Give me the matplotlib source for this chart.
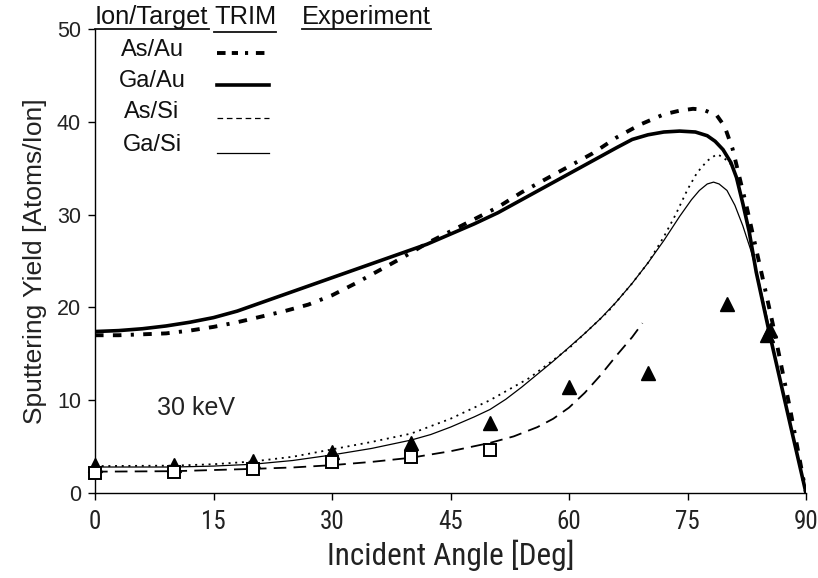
import matplotlib
matplotlib.use("Agg")
import matplotlib.pyplot as plt

plt.rcParams['font.family'] = ['Liberation Sans', 'DejaVu Sans']
NARROW = ['Liberation Sans Narrow', 'Roboto Condensed', 'DejaVu Sans Condensed', 'Liberation Sans']

# TRIM simulations, 30 keV
ang_asau = [0, 3, 6, 9, 12, 15, 18, 21, 24, 27, 30, 33, 36, 39, 42, 45, 48, 51, 54, 57, 60, 63, 66, 69,
            72, 74, 75.7, 77, 78.7, 79.7, 80.7, 81.5, 82.5, 84.5, 85.8, 88, 90]
y_asau = [17.0, 17.0, 17.1, 17.2, 17.5, 17.9, 18.4, 19.0, 19.6, 20.3, 21.3, 22.6, 24.0, 25.4, 26.9, 28.2, 29.5, 30.8, 32.4, 33.8, 35.2, 36.6, 38.3, 39.7,
          40.8, 41.2, 41.4, 41.3, 40.7, 39.5, 37.1, 34.3, 30.8, 23.2, 18.2, 9.0, 0.0]

ang_gaau = [0, 3, 6, 9, 12, 15, 18, 21, 24, 27, 30, 33, 36, 39, 42, 45, 48, 51, 54, 57, 60, 63, 66, 68,
            70, 72, 74, 76, 77.5, 78.5, 79.5, 80.5, 81.2, 82, 82.8, 83.7, 85.3, 88, 90]
y_gaau = [17.4, 17.5, 17.7, 18.0, 18.4, 18.9, 19.6, 20.5, 21.4, 22.3, 23.2, 24.1, 25.0, 25.9, 26.8, 27.9, 29.0, 30.2, 31.6, 33.0, 34.4, 35.8, 37.2, 38.1,
          38.6, 38.9, 39.0, 38.9, 38.5, 37.9, 37.0, 35.6, 34.0, 31.2, 28.2, 23.8, 17.5, 7.4, 0.0]

ang_assi = [0, 10, 15, 20, 25, 30, 35, 40, 45, 50, 55, 60, 65, 68, 70, 72, 73.5, 75, 76.2, 77.5, 78.7, 79.5,
            80.5, 81.2, 82, 82.8, 83.7, 85.3, 88, 90]
y_assi = [2.9, 2.95, 3.1, 3.4, 3.9, 4.7, 5.5, 6.4, 8.0, 10.0, 12.4, 15.6, 19.6, 22.6, 24.8, 27.6, 30.0, 32.7, 34.5, 35.8, 36.5, 36.2,
          35.4, 34.0, 31.2, 28.2, 23.8, 17.5, 7.4, 0.0]

ang_gasi = [0, 10, 15, 20, 25, 30, 35, 40, 42.5, 45, 48, 50, 52, 54, 56, 58, 60, 62, 64, 66, 68, 70, 72, 74, 75.5, 76.5,
            77.5, 78.3, 79, 80, 81, 82, 83, 84, 85, 86, 88, 90]
y_gasi = [2.8, 2.8, 2.9, 3.1, 3.5, 4.1, 4.8, 5.7, 6.3, 7.1, 8.2, 9.0, 10.1, 11.4, 12.8, 14.2, 15.7, 17.2, 18.8, 20.6, 22.6, 24.8, 27.2, 29.8, 31.6, 32.6,
          33.3, 33.5, 33.3, 32.6, 31.0, 28.8, 26.2, 23.0, 19.2, 15.0, 7.4, 0.0]

# fit through the experimental data
ang_fit = [0, 10, 20, 25, 30, 35, 40, 45, 50, 53, 56, 58, 60, 62, 64, 66, 68, 69.3]
y_fit = [2.3, 2.35, 2.6, 2.75, 3.0, 3.35, 3.8, 4.5, 5.4, 6.1, 7.1, 8.0, 9.2, 10.8, 12.7, 14.8, 16.8, 18.3]

# measured yields
ang_tri = [0, 10, 20, 30, 40, 50, 60, 70, 80, 85, 85.5]
y_tri = [3.0, 3.0, 3.4, 4.4, 5.4, 7.5, 11.4, 12.9, 20.4, 17.0, 17.6]
ang_sq = [0, 10, 20, 30, 40, 50]
y_sq = [2.2, 2.3, 2.6, 3.3, 3.9, 4.6]

xticks = [0, 15, 30, 45, 60, 75, 90]
yticks = [0, 10, 20, 30, 40, 50]

W, H = 818, 578
fig = plt.figure(figsize=(W / 100, H / 100), dpi=100)
ax = fig.add_axes([95 / W, 1 - 493 / H, 711 / W, 464 / H])

style_asau = (0, (2.2, 2.4, 2.2, 2.4, 0.8, 2.4))
ax.plot(ang_asau, y_asau, color='black', lw=2.8, linestyle=style_asau, zorder=3)
ax.plot(ang_gaau, y_gaau, color='black', lw=2.6, solid_capstyle='butt', zorder=3)
ax.plot(ang_assi, y_assi, color='black', lw=1.3, linestyle=(0, (1.1, 2.6)), zorder=3)
ax.plot(ang_gasi, y_gasi, color='black', lw=0.9, zorder=3)
ax.plot(ang_fit, y_fit, color='black', lw=1.3, linestyle=(0, (7, 4)), zorder=3)

ax.plot(ang_tri, y_tri, linestyle='none', marker='^', ms=10, color='black', zorder=4, clip_on=False)
ax.plot(ang_sq, y_sq, linestyle='none', marker='s', ms=8, mfc='white', mec='black', mew=1.4,
        zorder=4, clip_on=False)

ax.set_xlim(0, 90)
ax.set_ylim(0, 50)
ax.set_xticks(xticks)
ax.set_yticks(yticks)
ax.spines['top'].set_visible(False)
ax.spines['right'].set_visible(False)
ax.spines['left'].set_linewidth(1.0)
ax.spines['bottom'].set_linewidth(1.0)
ax.tick_params(direction='out', length=5, width=1.0)
ax.tick_params(axis='y', labelsize=15.5, pad=5, labelcolor='#222222')
ax.tick_params(axis='x', labelsize=18, pad=7, labelcolor='#222222')
for lab in ax.get_xticklabels():
    lab.set_family(NARROW)
ax.set_facecolor('none')

ax.set_xlabel('Incident Angle [Deg]', fontsize=22.5, color='#222222', labelpad=4, family=NARROW)
ax.set_ylabel('Sputtering Yield [Atoms/Ion]', fontsize=19, color='#222222', labelpad=7)

fig.text(157 / W, 1 - 408 / H, '30 keV', fontsize=18, va='center', ha='left', color='#222222')

# key: column headers with underlines
fig.canvas.draw()
renderer = fig.canvas.get_renderer()
headers = [('Ion/Target', 95, 29), ('TRIM', 214, 32), ('Experiment', 302, 29)]
for txt, px, uy in headers:
    t = fig.text(px / W, 1 - 17 / H, txt, fontsize=18.3, va='center', ha='left', color='#111111')
    bb = t.get_window_extent(renderer)
    fig.add_artist(plt.Line2D([bb.x0 / W, bb.x1 / W], [1 - uy / H, 1 - uy / H],
                              color='#111111', lw=1.3, transform=fig.transFigure))

rows = [('As/Au', 50, 53), ('Ga/Au', 81, 85), ('As/Si', 112, 118), ('Ga/Si', 145, 153)]
for txt, ty, _ in rows:
    fig.text(152 / W, 1 - ty / H, txt, fontsize=17, va='center', ha='center', color='#111111')

samples = [
    dict(lw=2.8, linestyle=(0, (2.2, 1.6, 1.6, 1.8, 0.8, 2.0))),
    dict(lw=2.6, linestyle='-'),
    dict(lw=0.9, linestyle=(0, (4.5, 3.0))),
    dict(lw=0.9, linestyle='-'),
]
for (txt, _, ly), kw in zip(rows, samples):
    fig.add_artist(plt.Line2D([217 / W, 269 / W], [1 - ly / H, 1 - ly / H], color='black',
                              transform=fig.transFigure, **kw))

fig.savefig('out.png', dpi=100)
